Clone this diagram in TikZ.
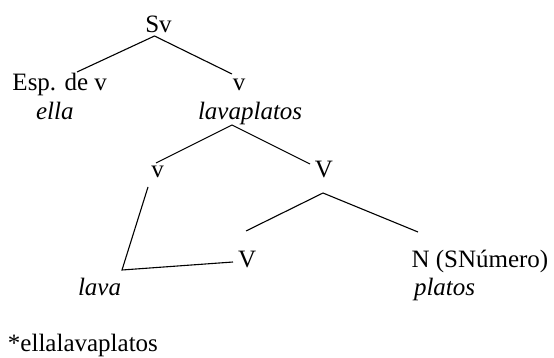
\documentclass[tikz,border=0pt]{standalone}
\usepackage{fontspec}
\setmainfont{Liberation Serif}
\begin{document}
\begin{tikzpicture}[x=1pt,y=-1pt,
  lbl/.style={inner sep=0pt,outer sep=0pt,font=\fontsize{25}{28}\selectfont},
  ilbl/.style={lbl,font=\fontsize{25}{28}\selectfont\itshape},
  br/.style={line width=1.1pt,black}]
\useasboundingbox (0,0) rectangle (554,358);
% labels
\node[lbl,anchor=base] (sv) at (158.5,32.5) {Sv};
\node[lbl,anchor=base west] (esp) at (12.5,90.5) {Esp. de v};
\node[ilbl,anchor=base west] (ella) at (36,119.5) {ella};
\node[lbl,anchor=base] (v1) at (239,90.5) {v};
\node[ilbl,anchor=base west] (lavaplatos) at (198,119.5) {lavaplatos};
\node[lbl,anchor=base] (v2) at (157.5,178) {v};
\node[lbl,anchor=base] (V2) at (324,178) {V};
\node[lbl,anchor=base west] (V3) at (238,267) {V};
\node[lbl,anchor=base west] (N) at (411.5,267) {N (SNúmero)};
\node[ilbl,anchor=base west] (lava) at (78,295) {lava};
\node[ilbl,anchor=base west] (platos) at (414,295) {platos};
\node[lbl,anchor=base west] (star) at (8,351) {*ellalavaplatos};
% branch points
\coordinate (a1) at (154.5,36);
\coordinate (a1l) at (77,72);
\coordinate (a1r) at (232,74);
\coordinate (a2) at (232,125);
\coordinate (a2l) at (156,163);
\coordinate (a2r) at (310,164);
\coordinate (a3) at (323,193);
\coordinate (a3l) at (246,231);
\coordinate (a3r) at (418,232);
\coordinate (b1) at (148,187);
\coordinate (b2) at (122,270);
\coordinate (b3) at (233,262);
% branches
\draw[br] (a1l) -- (a1) -- (a1r);
\draw[br] (a2l) -- (a2) -- (a2r);
\draw[br] (a3l) -- (a3) -- (a3r);
\draw[br] (b1) -- (b2) -- (b3);
\end{tikzpicture}
\end{document}
